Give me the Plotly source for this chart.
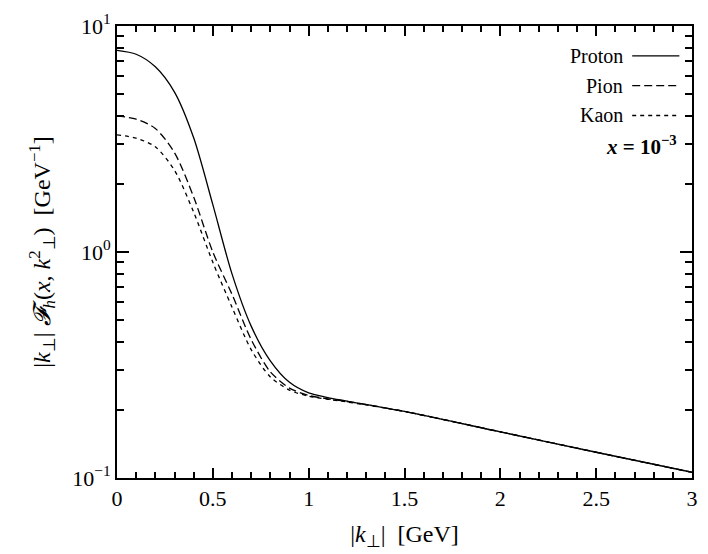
import plotly.graph_objects as go

# transverse momentum |k_perp| in GeV
k_perp = [0.0, 0.1, 0.2, 0.3, 0.4, 0.5, 0.6, 0.7, 0.8, 0.9, 1.0, 1.1, 1.2, 1.5, 2.0, 2.5, 3.0]

# |k| F_h(x, k^2) in GeV^-1, x = 1e-3
proton = [7.8, 7.5, 6.6, 5.1, 3.2, 1.62, 0.80, 0.47, 0.33, 0.265, 0.238, 0.227, 0.219, 0.197, 0.160, 0.130, 0.106]
pion = [4.0, 3.87, 3.52, 2.75, 1.75, 1.0, 0.65, 0.41, 0.295, 0.25, 0.232, 0.224, 0.218, 0.197, 0.160, 0.130, 0.106]
kaon = [3.3, 3.19, 2.92, 2.3, 1.5, 0.9, 0.57, 0.37, 0.28, 0.245, 0.23, 0.223, 0.217, 0.197, 0.160, 0.130, 0.106]

series = [("Proton", proton, "solid"), ("Pion", pion, "8px,4px"), ("Kaon", kaon, "4px,4px")]

FONT = "Liberation Serif"

fig = go.Figure()
for name, vals, dash in series:
    fig.add_trace(go.Scatter(
        x=k_perp, y=vals, name=name, mode="lines",
        line=dict(color="black", width=1.3, dash=dash, shape="spline", smoothing=0.8),
        showlegend=False,
    ))

# legend drawn as text + short line samples (text on the left like the original)
leg_y = [0.934, 0.868, 0.802]
for (name, vals, dash), yy in zip(series, leg_y):
    fig.add_annotation(xref="paper", yref="paper", x=0.883, y=yy, text=name,
                       showarrow=False, xanchor="right", yanchor="middle",
                       font=dict(family=FONT, size=20, color="black"))
    fig.add_shape(type="line", xref="paper", yref="paper", x0=0.896, x1=0.978, y0=yy, y1=yy,
                  line=dict(color="black", width=1.3, dash=dash))

fig.add_annotation(xref="paper", yref="paper", x=0.978, y=0.736,
                   text="<b><i>x</i> = 10<sup>−3</sup></b>",
                   showarrow=False, xanchor="right", yanchor="middle",
                   font=dict(family=FONT, size=21, color="black"))

fig.update_layout(
    width=708, height=554,
    paper_bgcolor="white", plot_bgcolor="white",
    margin=dict(l=117, r=11, t=10, b=76),
    font=dict(family=FONT, size=22, color="black"),
    xaxis=dict(
        range=[0, 3], tickmode="linear", tick0=0, dtick=0.5,
        ticks="inside", ticklen=10, tickwidth=2, tickcolor="black",
        minor=dict(ticks="inside", ticklen=6, tickwidth=2, dtick=0.1, tickcolor="black"),
        showline=True, linewidth=2, linecolor="black", mirror="ticks", showgrid=False,
        ticklabeloverflow="allow",
        title=dict(text="|<i>k</i><sub>⊥</sub>|  [GeV]", font=dict(size=24)),
    ),
    yaxis=dict(
        type="log", range=[-1, 1],
        tickvals=[0.1, 1, 10], ticktext=["10<sup>−1</sup>", "10<sup>0</sup>", "10<sup>1</sup>"],
        ticks="inside", ticklen=12, tickwidth=2, tickcolor="black",
        minor=dict(ticks="inside", ticklen=7, tickwidth=2, tickcolor="black",
                   tickvals=[0.2, 0.3, 0.4, 0.5, 0.6, 0.7, 0.8, 0.9, 2, 3, 4, 5, 6, 7, 8, 9]),
        showline=True, linewidth=2, linecolor="black", mirror="ticks", showgrid=False,
        ticklabeloverflow="allow",
        title=dict(text="|<i>k</i><sub>⊥</sub>| <i>𝓕<sub>h</sub></i>(<i>x</i>, <i>k</i><sup>2</sup><sub>⊥</sub>)  [GeV<sup>−1</sup>]",
                   font=dict(size=24)),
    ),
)

fig.write_html("out.html", config={"displayModeBar": False},
               post_script="document.body.style.margin='0';")
